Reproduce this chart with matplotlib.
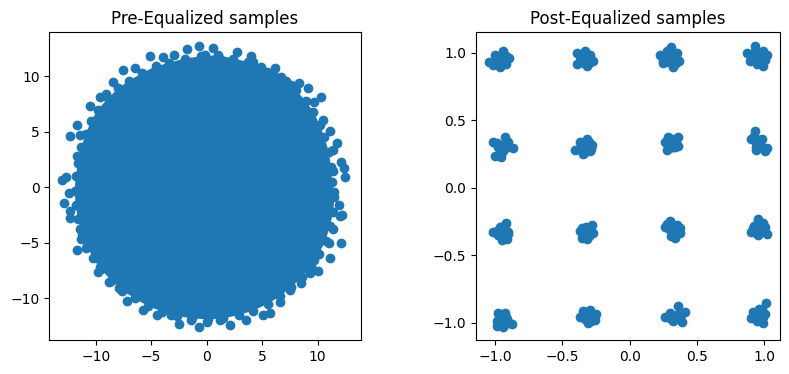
import matplotlib
matplotlib.use("Agg")
import matplotlib.pyplot as plt

# ---------------- Pre-equalized samples ----------------
# ring of samples bounding the densely filled core;
# the core inside this ring is solid colour
ring_x = [11.3, 11.2, 11.0, 10.6, 10.2, 9.6, 8.9, 8.0, 7.1, 6.0, 4.9, 3.7, 2.4, 1.0,
          -0.5, -2.0, -3.4, -4.6, -5.8, -7.0, -8.0, -8.9, -9.8, -10.4, -10.9, -11.3,
          -11.6, -11.8, -11.9, -11.8, -11.6, -11.2, -10.8, -10.2, -9.5, -8.6, -7.6,
          -6.5, -5.3, -4.0, -2.7, -1.3, 0.1, 1.5, 2.9, 4.2, 5.5, 6.6, 7.6, 8.6, 9.4,
          10.1, 10.7, 11.1, 11.4, 11.5]
ring_y = [0.5, 1.8, 3.2, 4.5, 5.6, 6.8, 7.8, 8.8, 9.6, 10.3, 10.8, 11.3, 11.6, 11.9,
          11.8, 11.6, 11.2, 10.9, 10.3, 9.6, 8.9, 8.0, 7.0, 6.0, 4.8, 3.6, 2.2, 1.0,
          -0.3, -1.6, -2.9, -4.2, -5.3, -6.4, -7.4, -8.4, -9.3, -10.0, -10.7, -11.2,
          -11.6, -11.8, -11.9, -11.8, -11.5, -11.1, -10.5, -9.8, -9.0, -8.1, -7.1,
          -6.0, -4.8, -3.5, -2.2, -0.9]

# outlying samples around the edge
pre_x = [-0.72, 0.57, -1.74, -5.14, -2.97, -3.93, 2.73, 4.02, 1.23, -0.18, -7.5, -6.5,
         -8.46, -9.65, -9.1, -10.5, -11.7, -12.3, -11.4, -11.7, -11.0, -12.7, -13.0,
         -12.4, -12.85, -12.3, -12.3, -11.4, -11.3, -11.7, -10.9, -9.94, -9.65, -9.8,
         -8.83, -7.9, -7.18, -5.74, -4.5, -3.2, -2.5, -0.72, -1.38, 0.03, 1.17, 2.07,
         3.57, 5.07, 5.74, 6.58, 7.54, 8.53, 9.28, 10.0, 11.1, 9.7, 12.1, 11.0, 11.4,
         12.0, 12.2, 11.9, 11.5, 12.5, 12.4, 12.1, 11.4, 11.4, 11.7, 11.1, 10.5, 10.3,
         9.7, 9.1, 8.3, 7.6, 6.7, 6.13, 5.4, 4.17]
pre_y = [12.76, 12.58, 12.46, 11.83, 11.92, 11.77, 12.2, 11.86, 11.6, 11.9, 10.57, 10.7,
         9.5, 8.17, 8.4, 7.3, 5.6, 4.65, 4.7, 2.8, 2.16, 0.96, 0.66, -0.54, -1.38, -2.1,
         -2.8, -3.78, -4.68, -5.65, -5.5, -6.4, -7.15, -7.6, -8.5, -9.1, -10.2, -11.05,
         -11.5, -11.5, -12.34, -12.55, -11.95, -12.1, -11.95, -12.4, -11.95, -11.5,
         -11.3, -10.3, -9.25, -8.65, -7.75, -7.5, -6.4, -6.55, -5.0, -5.05, -3.78,
         -2.58, -2.5, -1.6, -0.4, 0.96, 1.7, 2.3, 1.5, 3.4, 4.0, 5.1, 6.07, 8.17, 7.7,
         8.9, 9.4, 9.2, 9.97, 10.7, 10.4, 11.3]

# ---------------- Post-equalized samples (16 clusters) ----------------
post_x = [
    # row y ~ 0.95
    -1.042, -1.0, -0.943, -0.894, -0.963, -1.012, -0.975, -0.918, -0.95,
    -0.394, -0.389, -0.344, -0.295, -0.27, -0.319, -0.369, -0.332,
    0.225, 0.245, 0.304, 0.324, 0.368, 0.319, 0.274, 0.349, 0.274,
    0.868, 0.930, 0.987, 1.004, 0.992, 0.943, 0.893, 0.955, 1.017,
    # row y ~ 0.31
    -1.017, -0.926, -0.901, -0.869, -0.975, -1.0, -0.958, -0.938, -0.988,
    -0.406, -0.369, -0.319, -0.282, -0.295, -0.344, -0.357,
    0.262, 0.274, 0.324, 0.361, 0.361, 0.312, 0.287,
    0.930, 0.905, 0.955, 0.980, 0.938, 1.004, 1.022, 0.967,
    # row y ~ -0.33
    -1.012, -0.963, -0.918, -0.901, -0.913, -0.95, -0.975, -0.933,
    -0.369, -0.357, -0.324, -0.282, -0.275, -0.319, -0.332,
    0.262, 0.299, 0.349, 0.373, 0.336, 0.312, 0.373,
    0.955, 0.918, 0.905, 0.967, 1.004, 1.017, 0.955, 0.992,
    # row y ~ -0.97
    -0.975, -0.988, -0.988, -0.926, -0.913, -0.876, -0.938, -0.958,
    -0.369, -0.344, -0.295, -0.250, -0.258, -0.307, -0.332,
    0.262, 0.299, 0.349, 0.361, 0.411, 0.386, 0.324, 0.373,
    1.012, 0.962, 0.980, 0.918, 0.905, 0.943, 0.987, 1.004, 0.955,
]
post_y = [
    0.931, 0.985, 1.015, 0.961, 0.892, 0.907, 0.948, 0.916, 0.973,
    0.998, 0.916, 0.956, 0.985, 0.941, 0.899, 0.948, 1.01,
    0.985, 0.924, 1.04, 0.973, 0.941, 0.892, 0.956, 0.998, 1.01,
    0.998, 1.047, 1.01, 0.948, 0.899, 0.916, 0.936, 0.973, 0.985,
    0.336, 0.378, 0.336, 0.294, 0.299, 0.237, 0.230, 0.274, 0.324,
    0.279, 0.336, 0.361, 0.319, 0.274, 0.25, 0.299,
    0.336, 0.279, 0.361, 0.378, 0.311, 0.299, 0.373,
    0.418, 0.361, 0.336, 0.361, 0.279, 0.274, 0.294, 0.304,
    -0.326, -0.289, -0.259, -0.326, -0.382, -0.387, -0.350, -0.338,
    -0.318, -0.375, -0.289, -0.276, -0.338, -0.382, -0.338,
    -0.289, -0.244, -0.276, -0.338, -0.375, -0.326, -0.301,
    -0.234, -0.301, -0.326, -0.313, -0.289, -0.343, -0.350, -0.264,
    -0.926, -0.987, -1.024, -0.926, -0.975, -1.012, -1.029, -0.975,
    -0.955, -0.913, -0.906, -0.938, -0.980, -1.005, -0.975,
    -0.955, -0.926, -0.950, -0.876, -0.921, -0.995, -0.987, -0.955,
    -0.857, -0.896, -0.938, -0.921, -0.963, -0.987, -1.0, -0.938, -0.950,
]

# samples packed in the middle of each cluster
core_pts_x = [
    -0.96, -0.985, -0.93, -0.95, -0.99, -0.935, -0.97, -0.92,
    -0.33, -0.355, -0.31, -0.34, -0.37, -0.30, -0.36, -0.30,
    0.30, 0.28, 0.33, 0.295, 0.26, 0.33, 0.345, 0.25,
    0.95, 0.92, 0.975, 0.96, 0.90, 0.98, 0.93, 0.995,
    -0.95, -0.975, -0.925, -0.955, -0.985, -0.92, -0.965, -0.90,
    -0.33, -0.35, -0.31, -0.325, -0.375, -0.30, -0.34, -0.29,
    0.31, 0.29, 0.335, 0.32, 0.275, 0.345, 0.285, 0.34,
    0.95, 0.935, 0.975, 0.96, 0.925, 0.94, 0.995, 0.965,
    -0.94, -0.965, -0.925, -0.945, -0.985, -0.925, -0.935, -0.905,
    -0.32, -0.345, -0.30, -0.33, -0.355, -0.295, -0.345, -0.30,
    0.32, 0.295, 0.34, 0.325, 0.28, 0.35, 0.31, 0.355,
    0.96, 0.935, 0.98, 0.965, 0.925, 0.95, 0.99, 0.94,
    -0.94, -0.96, -0.915, -0.945, -0.97, -0.965, -0.92, -0.895,
    -0.31, -0.335, -0.29, -0.32, -0.355, -0.32, -0.27, -0.285,
    0.33, 0.305, 0.355, 0.34, 0.285, 0.31, 0.38, 0.36,
    0.96, 0.94, 0.98, 0.97, 0.93, 0.985, 0.99, 0.965,
]
core_pts_y = [
    0.95, 0.935, 0.94, 0.965, 0.96, 0.92, 0.915, 0.975,
    0.95, 0.965, 0.935, 0.925, 0.975, 0.965, 0.93, 0.92,
    0.96, 0.95, 0.955, 0.93, 0.975, 0.99, 0.92, 0.945,
    0.97, 0.955, 0.96, 0.99, 0.97, 0.93, 1.015, 0.965,
    0.30, 0.31, 0.32, 0.27, 0.33, 0.34, 0.26, 0.30,
    0.30, 0.315, 0.295, 0.325, 0.285, 0.335, 0.26, 0.29,
    0.32, 0.31, 0.33, 0.30, 0.335, 0.345, 0.295, 0.30,
    0.33, 0.34, 0.31, 0.32, 0.38, 0.30, 0.29, 0.35,
    -0.33, -0.315, -0.31, -0.355, -0.32, -0.275, -0.37, -0.34,
    -0.33, -0.32, -0.31, -0.355, -0.30, -0.295, -0.36, -0.36,
    -0.31, -0.305, -0.32, -0.345, -0.27, -0.29, -0.355, -0.33,
    -0.30, -0.32, -0.31, -0.28, -0.285, -0.25, -0.32, -0.335,
    -0.98, -0.96, -0.955, -0.995, -0.94, -1.005, -1.0, -1.0,
    -0.96, -0.945, -0.955, -0.975, -0.95, -0.92, -0.95, -0.985,
    -0.95, -0.945, -0.945, -0.97, -0.96, -0.975, -0.94, -0.97,
    -0.94, -0.93, -0.92, -0.96, -0.965, -0.90, -0.96, -0.98,
]

C0 = "#1f77b4"
W, H = 789, 374
fig = plt.figure(figsize=(W / 100, H / 100), dpi=100)

ax1 = fig.add_axes([49.3 / W, (H - 340.3) / H, 311.4 / W, 308 / H])
ax1.fill(ring_x, ring_y, color=C0, linewidth=0)
ax1.scatter(ring_x, ring_y, color=C0)
ax1.scatter(pre_x, pre_y, color=C0)
ax1.set_xlim(-14.18, 13.87)
ax1.set_ylim(-13.78, 13.96)
ax1.set_xticks([-10, -5, 0, 5, 10])
ax1.set_yticks([-10, -5, 0, 5, 10])
ax1.set_title("Pre-Equalized samples")

ax2 = fig.add_axes([475.7 / W, (H - 340.3) / H, 304.6 / W, 308 / H])
ax2.scatter(post_x, post_y, color=C0)
ax2.scatter(core_pts_x, core_pts_y, color=C0)
ax2.set_xlim(-1.143, 1.119)
ax2.set_ylim(-1.130, 1.151)
ax2.set_xticks([-1.0, -0.5, 0.0, 0.5, 1.0])
ax2.set_yticks([-1.0, -0.5, 0.0, 0.5, 1.0])
ax2.set_title("Post-Equalized samples")

fig.savefig("out.png", dpi=100)
